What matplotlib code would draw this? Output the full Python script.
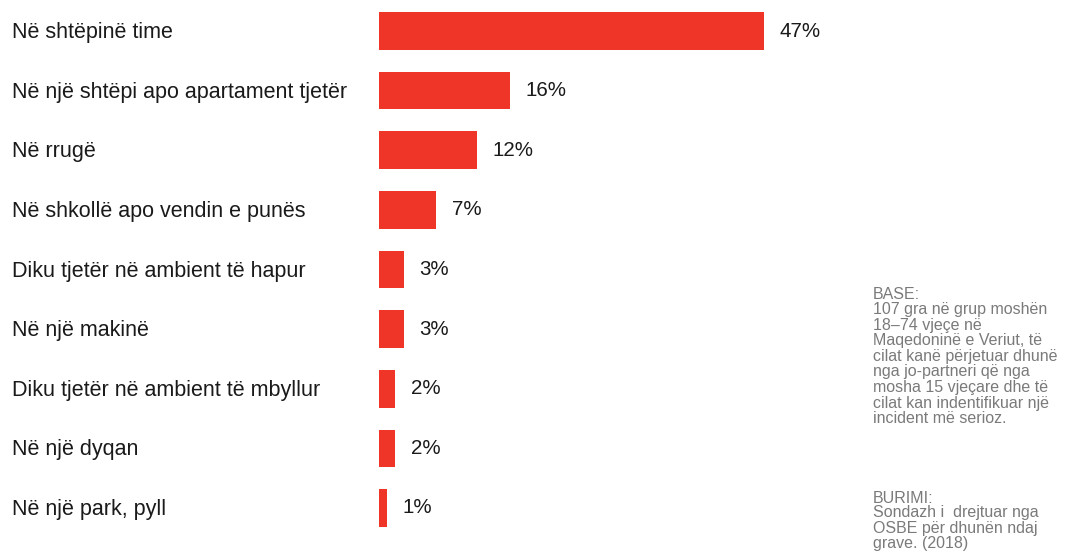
import matplotlib.pyplot as plt

categories = [
    "Në shtëpinë time",
    "Në një shtëpi apo apartament tjetër",
    "Në rrugë",
    "Në shkollë apo vendin e punës",
    "Diku tjetër në ambient të hapur",
    "Në një makinë",
    "Diku tjetër në ambient të mbyllur",
    "Në një dyqan",
    "Në një park, pyll",
]
values = [47, 16, 12, 7, 3, 3, 2, 2, 1]
value_labels = ["47%", "16%", "12%", "7%", "3%", "3%", "2%", "2%", "1%"]

base_text = ("107 gra në grup moshën\n18\u201374 vjeçe në\nMaqedoninë e Veriut, të\n"
             "cilat kanë përjetuar dhunë\nnga jo-partneri që nga\nmosha 15 vjeçare dhe të\n"
             "cilat kan indentifikuar një\nincident më serioz.")
source_text = "Sondazh i  drejtuar nga\nOSBE për dhunën ndaj\ngrave. (2018)"

plt.rcParams["font.family"] = ["Liberation Sans", "DejaVu Sans"]
RED = "#EE3527"
W, H = 1073, 554

fig = plt.figure(figsize=(W / 100, H / 100), dpi=100)
left, right = 379, 379 + 8.19 * 60
top, bottom = 1.2, 537.8
ax = fig.add_axes([left / W, 1 - bottom / H, (right - left) / W, (bottom - top) / H])
ypos = range(len(categories))
ax.barh(ypos, values, height=0.63, color=RED)
ax.set_xlim(0, 60)
ax.set_ylim(len(categories) - 0.5, -0.5)
ax.axis("off")

for y, v, lab, cat in zip(ypos, values, value_labels, categories):
    ax.text(v + 1.9, y, lab, va="center", ha="left", fontsize=14.8, color="#1a1a1a")
    ax.annotate(cat, xy=(0, y), xycoords=("figure fraction", "data"),
                xytext=(12, -1.5), textcoords="offset pixels",
                va="center", ha="left", fontsize=15.5, color="#1a1a1a")

grey = "#7a7a7a"
fs = 11.5
fig.text(873 / W, 1 - 287 / H, "BASE:", fontsize=fs, color=grey, va="top", ha="left")
fig.text(873 / W, 1 - 302 / H, base_text, fontsize=fs, color=grey,
         va="top", ha="left", linespacing=1.05)
fig.text(873 / W, 1 - 491 / H, "BURIMI:", fontsize=fs, color=grey, va="top", ha="left")
fig.text(873 / W, 1 - 505 / H, source_text, fontsize=fs, color=grey,
         va="top", ha="left", linespacing=1.05)

fig.savefig("out.png", dpi=100)
